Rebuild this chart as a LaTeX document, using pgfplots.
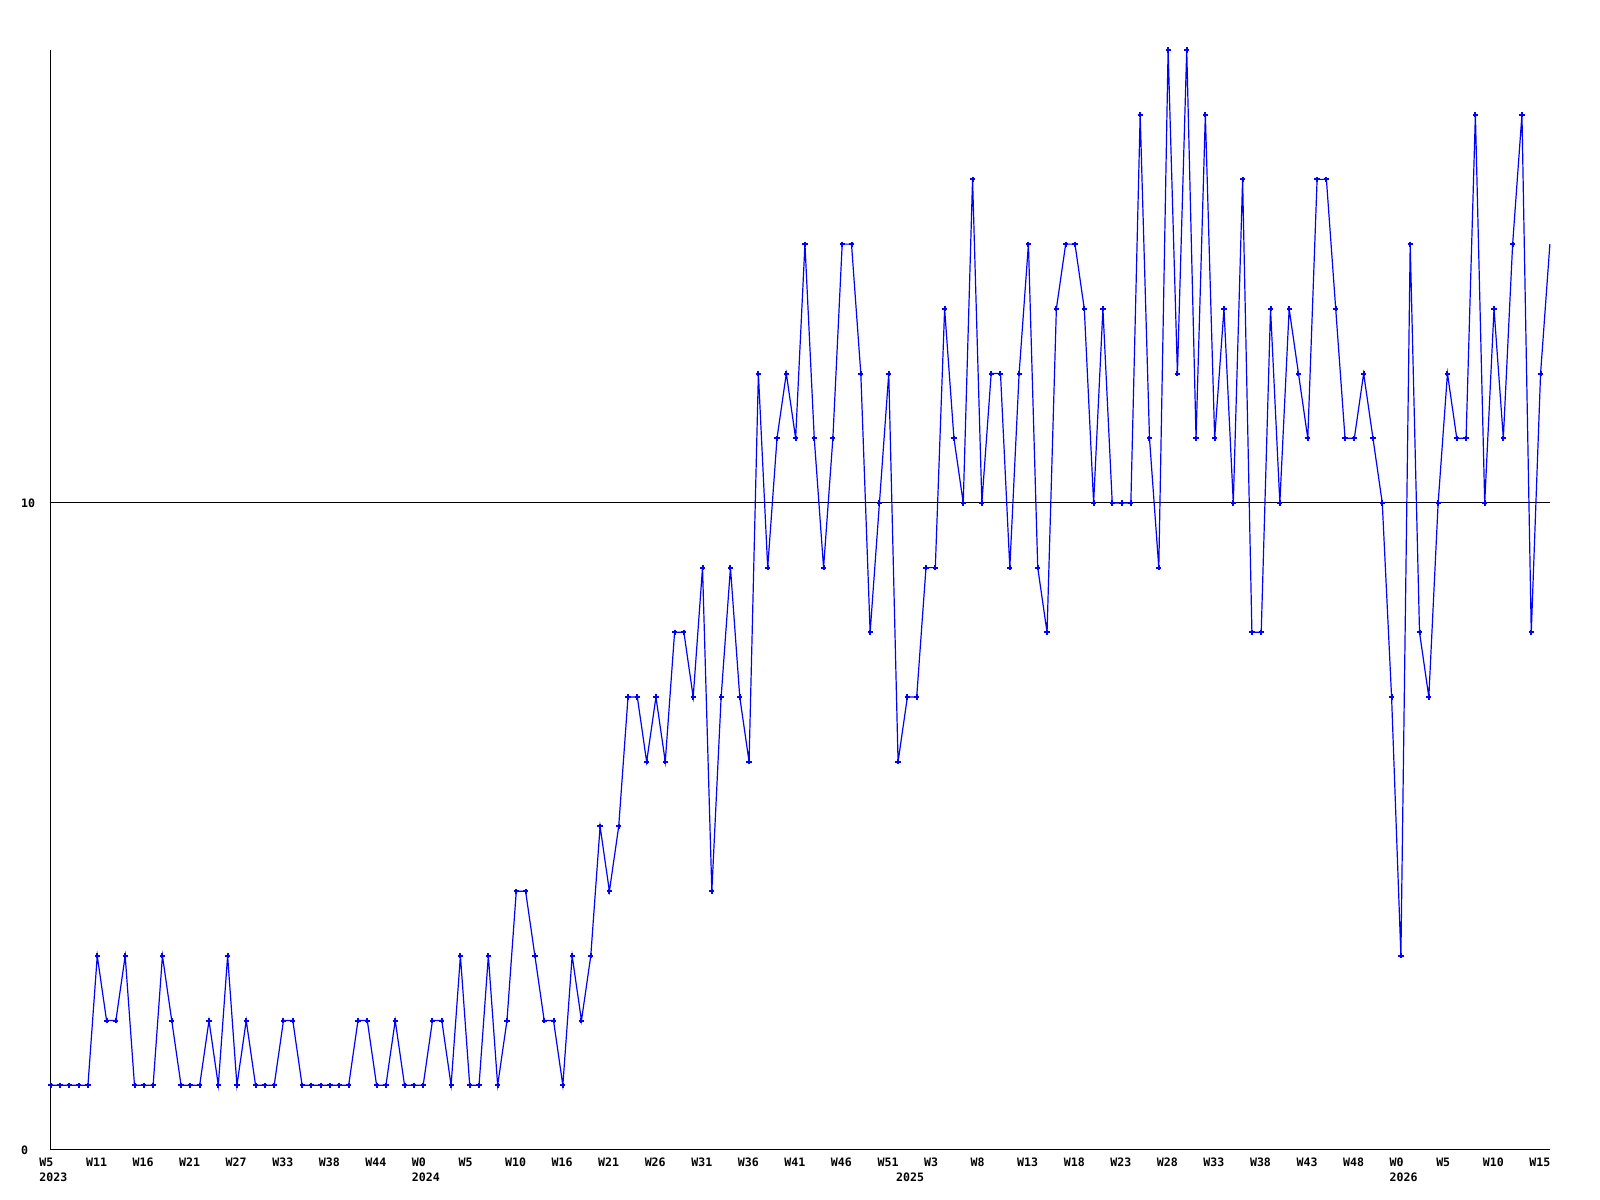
\documentclass[border=0pt]{standalone}
\usepackage{fontspec}
\setmainfont{DejaVu Sans Mono}
\usepackage{pgfplots}
\usepackage{pgfplotstable}
\pgfplotsset{compat=1.18}
\pgfplotstableread{
x y
0 1
1 1
2 1
3 1
4 1
5 3
6 2
7 2
8 3
9 1
10 1
11 1
12 3
13 2
14 1
15 1
16 1
17 2
18 1
19 3
20 1
21 2
22 1
23 1
24 1
25 2
26 2
27 1
28 1
29 1
30 1
31 1
32 1
33 2
34 2
35 1
36 1
37 2
38 1
39 1
40 1
41 2
42 2
43 1
44 3
45 1
46 1
47 3
48 1
49 2
50 4
51 4
52 3
53 2
54 2
55 1
56 3
57 2
58 3
59 5
60 4
61 5
62 7
63 7
64 6
65 7
66 6
67 8
68 8
69 7
70 9
71 4
72 7
73 9
74 7
75 6
76 12
77 9
78 11
79 12
80 11
81 14
82 11
83 9
84 11
85 14
86 14
87 12
88 8
89 10
90 12
91 6
92 7
93 7
94 9
95 9
96 13
97 11
98 10
99 15
100 10
101 12
102 12
103 9
104 12
105 14
106 9
107 8
108 13
109 14
110 14
111 13
112 10
113 13
114 10
115 10
116 10
117 16
118 11
119 9
120 17
121 12
122 17
123 11
124 16
125 11
126 13
127 10
128 15
129 8
130 8
131 13
132 10
133 13
134 12
135 11
136 15
137 15
138 13
139 11
140 11
141 12
142 11
143 10
144 7
145 3
146 14
147 8
148 7
149 10
150 12
151 11
152 11
153 16
154 10
155 13
156 11
157 14
158 16
159 8
160 12
161 14
}\datatable
\begin{document}
\begin{tikzpicture}[x=1pt,y=1pt]
\path[use as bounding box] (0,0) rectangle (400,300);
\begin{axis}[
  at={(12.675pt,12.5pt)}, anchor=south west, scale only axis,
  width=374.8pt, height=275.0pt,
  xmin=0, xmax=161, ymin=0, ymax=17,
  axis x line*=bottom, axis y line*=left,
  axis line style={-, line width=0.25pt, black},
  xtick={0,5,...,160},
  xticklabels={W5,W11,W16,W21,W27,W33,W38,W44,W0,W5,W10,W16,W21,W26,W31,W36,W41,W46,W51,W3,W8,W13,W18,W23,W28,W33,W38,W43,W48,W0,W5,W10,W15},
  ytick={0,10}, yticklabels={0,10},
  major tick length=0pt,
  ymajorgrids, grid style={black, line width=0.25pt},
  tick label style={font=\bfseries\fontsize{2.9}{3.4}\selectfont, inner sep=0pt},
  xticklabel style={anchor=north west, xshift=-3.0pt, yshift=-1.75pt},
  yticklabel style={anchor=west, xshift=-7.6pt},
  clip=false,
]
\addplot[color={rgb,255:red,0;green,0;blue,255}, line width=0.3pt, no marks] table[x=x,y=y] {\datatable};
\addplot[color={rgb,255:red,0;green,0;blue,255}, only marks, mark=+, mark size=0.65pt, mark options={line width=0.5pt}, restrict x to domain=0:160] table[x=x,y=y] {\datatable};
\begin{scope}[every node/.style={anchor=north west, inner sep=0pt, font=\bfseries\fontsize{2.9}{3.4}\selectfont}]
\node[xshift=-3.0pt, yshift=-5.5pt] at (axis cs:0,0) {2023};
\node[xshift=-3.0pt, yshift=-5.5pt] at (axis cs:40,0) {2024};
\node[xshift=-3.0pt, yshift=-5.5pt] at (axis cs:92,0) {2025};
\node[xshift=-3.0pt, yshift=-5.5pt] at (axis cs:145,0) {2026};
\end{scope}
\end{axis}
\end{tikzpicture}
\end{document}
